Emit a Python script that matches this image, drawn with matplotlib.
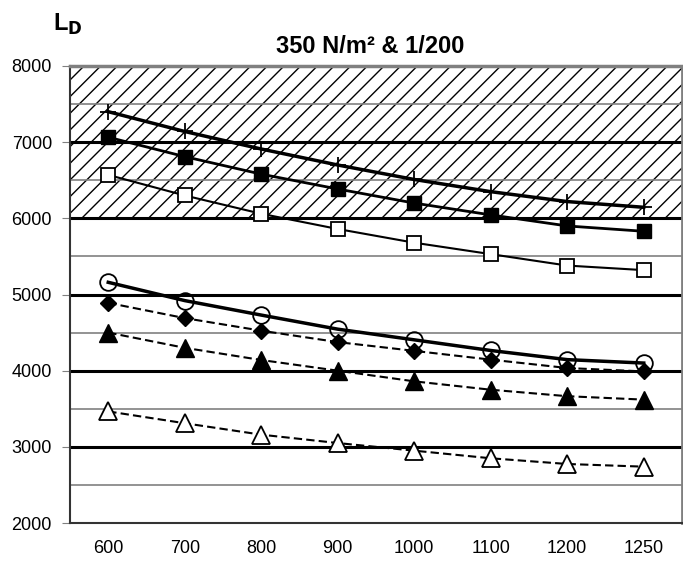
import matplotlib
matplotlib.use("Agg")
import matplotlib.pyplot as plt

# categories (evenly spaced on the x axis)
spans = ["600", "700", "800", "900", "1000", "1100", "1200", "1250"]

plus_vals = [7400, 7140, 6910, 6700, 6510, 6350, 6220, 6145]
sq_fill_vals = [7065, 6810, 6580, 6385, 6200, 6045, 5900, 5830]
sq_open_vals = [6570, 6300, 6060, 5860, 5680, 5530, 5380, 5320]
circle_vals = [5160, 4920, 4730, 4545, 4405, 4265, 4145, 4100]
diamond_vals = [4890, 4690, 4525, 4375, 4260, 4145, 4035, 3990]
tri_fill_vals = [4500, 4300, 4140, 4000, 3860, 3750, 3665, 3620]
tri_open_vals = [3465, 3310, 3160, 3050, 2950, 2850, 2775, 2740]

plt.rcParams['font.family'] = ['Liberation Sans', 'DejaVu Sans']

fig = plt.figure(figsize=(6.83, 5.63), dpi=100)
ax = fig.add_axes([0.1025, 0.071, 0.896, 0.8118])

x = list(range(len(spans)))

# hatched zone
ax.axhspan(6000, 8000, facecolor='white', edgecolor='black', hatch='//', linewidth=0, zorder=0)

# grid: thick black at 1000s, thin gray at 500s
for v in [2500, 3500, 4500, 5500, 6500, 7500]:
    ax.axhline(v, color='#808080', lw=1.2, zorder=1)
for v in [3000, 4000, 5000, 6000, 7000]:
    ax.axhline(v, color='black', lw=2.2, zorder=1)

ax.plot(x, plus_vals, color='black', lw=2.5, marker='+', ms=11, mew=1.3, zorder=3)
ax.plot(x, sq_fill_vals, color='black', lw=2, marker='s', ms=10, mfc='black', mec='black', zorder=3)
ax.plot(x, sq_open_vals, color='black', lw=1.5, marker='s', ms=10, mfc='white', mec='black', mew=1.3, zorder=3)
ax.plot(x, circle_vals, color='black', lw=2.5, marker='o', ms=12, mfc='none', mec='black', mew=1.3, zorder=4)
ax.plot(x, diamond_vals, color='black', lw=1.5, ls='--', dashes=(4, 2), marker='D', ms=8, mfc='black', mec='black', zorder=3)
ax.plot(x, tri_fill_vals, color='black', lw=1.5, ls='--', dashes=(4, 2), marker='^', ms=13, mfc='black', mec='black', zorder=3)
ax.plot(x, tri_open_vals, color='black', lw=1.5, ls='--', dashes=(4, 2), marker='^', ms=13, mfc='white', mec='black', mew=1.3, zorder=3)

ax.set_xlim(-0.5, len(spans) - 0.5)
ax.set_ylim(2000, 8000)
ax.set_xticks(x)
ax.set_xticklabels(spans)
ax.set_yticks([2000, 3000, 4000, 5000, 6000, 7000, 8000])
ax.tick_params(axis='x', length=0, pad=12, labelsize=13)
ax.tick_params(axis='y', length=6, direction='out', labelsize=13, color='#808080', pad=7)

ax.spines['top'].set_color('#808080')
ax.spines['top'].set_linewidth(2.5)
ax.spines['right'].set_color('#808080')
ax.spines['right'].set_linewidth(2)
ax.spines['left'].set_color('#333333')
ax.spines['left'].set_linewidth(1.5)
ax.spines['bottom'].set_color('#333333')
ax.spines['bottom'].set_linewidth(1.5)

fig.text(0.542, 0.918, "350 N/m² & 1/200", ha='center', va='center', fontsize=17, fontweight='bold')
fig.text(0.078, 0.957, "L$_\\mathbf{D}$", ha='left', va='center', fontsize=17, fontweight='bold')

fig.savefig("out.png", dpi=100)
